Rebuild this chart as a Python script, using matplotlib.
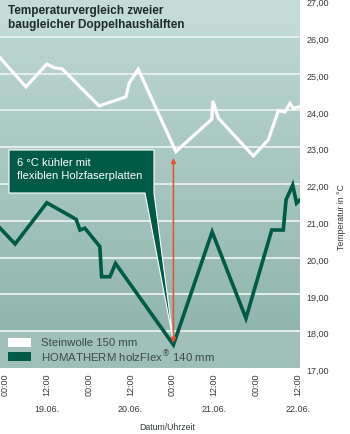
import numpy as np
import matplotlib
matplotlib.use("Agg")
import matplotlib.pyplot as plt
from matplotlib.patches import Rectangle, Polygon
from matplotlib import transforms

plt.rcParams['font.family'] = ['Liberation Sans', 'DejaVu Sans']

# Stunden ab 19.06. 00:00
stein_h = [-1.4, 6.0, 12.0, 14.1, 16.4, 27.0, 34.7, 35.6, 38.2, 49.0, 59.3, 59.6,
           61.2, 71.2, 75.5, 78.4, 80.3, 81.7, 82.7, 84.6]
stein_t = [25.43, 24.64, 25.26, 25.16, 25.13, 24.12, 24.37, 24.74, 25.12, 22.88, 23.76, 24.26,
           23.79, 22.76, 23.20, 23.99, 23.96, 24.19, 24.06, 24.10]

holz_h = [-1.4, 2.9, 12.0, 20.4, 21.5, 22.9, 27.2, 27.7, 30.1, 31.7, 48.3, 59.4,
          69.1, 76.5, 79.8, 80.6, 82.5, 83.6, 84.6]
holz_t = [20.80, 20.37, 21.49, 21.04, 20.75, 20.80, 20.30, 19.48, 19.48, 19.84, 17.63, 20.70,
          18.35, 20.75, 20.75, 21.57, 21.97, 21.48, 21.57]

xticks = [0, 12, 24, 36, 48, 60, 72, 84]
xticklabels = ["00:00", "12:00"] * 4
date_pos = [12, 36, 60, 84]
date_labels = ["19.06.", "20.06.", "21.06.", "22.06."]
yticks = list(range(17, 28))

green = "#005a46"
red = "#e5532d"
txt = "#333b3a"

fig = plt.figure(figsize=(3.5, 4.34), dpi=100)
ax = fig.add_axes([0, 66 / 434, 300 / 350, 368 / 434])
ax.set_xlim(-1.43, 84.6)
ax.set_ylim(17, 27)

# Hintergrund mit Verlauf (oben hell, unten dunkler)
grad = np.linspace(0, 1, 256).reshape(-1, 1)
cmap = matplotlib.colors.LinearSegmentedColormap.from_list("bg", ["#bfd9d4", "#8cb1a9"])
ax.imshow(grad, cmap=cmap, aspect="auto", extent=(-1.43, 84.6, 17, 27), origin="upper", zorder=0)
ax.axhspan(26, 27, color="#d2e6e2", alpha=0.35, lw=0, zorder=0.5)
ax.axhspan(17, 18, color="#c2dbd4", alpha=0.35, lw=0, zorder=0.5)

for y in yticks[1:-1]:
    ax.axhline(y, color="#e8f1ef", lw=1.3, zorder=1)

ax.plot(stein_h, stein_t, color="white", lw=2.3, solid_joinstyle="miter", zorder=3)
ax.plot(holz_h, holz_t, color=green, lw=2.6, solid_joinstyle="miter", zorder=3)

# Callout
imin = int(np.argmin(holz_t))
tip = ax.transAxes.inverted().transform(ax.transData.transform((holz_h[imin], holz_t[imin] + 0.08)))
x0, x1, xb = 9 / 300, 154 / 300, 145 / 300
yt, yb = 1 - 150 / 368, 1 - 193 / 368
poly = Polygon([(x0, yt), (x1, yt), (x1, yb), tip, (xb, yb), (x0, yb)], closed=True,
               transform=ax.transAxes, facecolor=green, edgecolor="white", lw=0.8, zorder=4)
ax.add_patch(poly)
ax.text(17 / 300, 1 - 163 / 368, "6 °C kühler mit", transform=ax.transAxes, color="white",
        fontsize=8, va="center", ha="left", zorder=5)
ax.text(17 / 300, 1 - 176 / 368, "flexiblen Holzfaserplatten", transform=ax.transAxes, color="white",
        fontsize=8, va="center", ha="left", zorder=5)

# Pfeil
smin = int(np.argmin(stein_t))
ax.annotate("", xy=(holz_h[imin], stein_t[smin] - 0.05), xytext=(holz_h[imin], holz_t[imin] + 0.05),
            arrowprops=dict(arrowstyle="<|-|>", color=red, lw=1.1, mutation_scale=7,
                            shrinkA=0, shrinkB=0), zorder=6)

# Titel
ax.text(8 / 300, 1 - 11 / 368, "Temperaturvergleich zweier", transform=ax.transAxes,
        fontsize=8.5, fontweight="bold", color="#1c2a29", va="center", ha="left")
ax.text(8 / 300, 1 - 25 / 368, "baugleicher Doppelhaushälften", transform=ax.transAxes,
        fontsize=8.5, fontweight="bold", color="#1c2a29", va="center", ha="left")

# Legende
ax.add_patch(Rectangle((8 / 300, 1 - 347 / 368), 23 / 300, 9 / 368, transform=ax.transAxes,
                       facecolor="white", lw=0, zorder=4))
ax.add_patch(Rectangle((8 / 300, 1 - 361 / 368), 23 / 300, 9 / 368, transform=ax.transAxes,
                       facecolor=green, lw=0, zorder=4))
ax.text(41 / 300, 1 - 342.5 / 368, "Steinwolle 150 mm", transform=ax.transAxes,
        fontsize=8.2, color="#3c4a48", va="center", ha="left", zorder=5)
ax.text(41 / 300, 1 - 356.5 / 368, "HOMATHERM holzFlex$^{®}$ 140 mm", transform=ax.transAxes,
        fontsize=8.2, color="#3c4a48", va="center", ha="left", zorder=5)

for s in ax.spines.values():
    s.set_visible(False)

ax.yaxis.tick_right()
ax.set_yticks(yticks)
ax.set_yticklabels([f"{v},00" for v in yticks])
ax.tick_params(axis="y", length=0, pad=4.5, labelsize=6.5, labelcolor=txt)
off = transforms.ScaledTranslation(0, -2.5 / 100, fig.dpi_scale_trans)
for lbl in ax.get_yticklabels():
    lbl.set_transform(lbl.get_transform() + off)

ax.set_xticks(xticks)
ax.set_xticklabels(xticklabels, rotation=90)
ax.tick_params(axis="x", length=0, pad=4, labelsize=6.5, labelcolor=txt)

dtrans = transforms.blended_transform_factory(ax.transData, ax.transAxes)
for p, d in zip(date_pos, date_labels):
    ax.text(p, -42 / 368, d, transform=dtrans, fontsize=6.5, color=txt, ha="center", va="center")

fig.text(167 / 350, 1 - 427 / 434, "Datum/Uhrzeit", fontsize=6.3, color=txt, ha="center", va="center")
fig.text(342 / 350, 1 - 217 / 434, "Temperatur in °C", fontsize=6.3, color=txt, ha="center",
         va="center", rotation=90)

fig.savefig("out.png", dpi=100)
